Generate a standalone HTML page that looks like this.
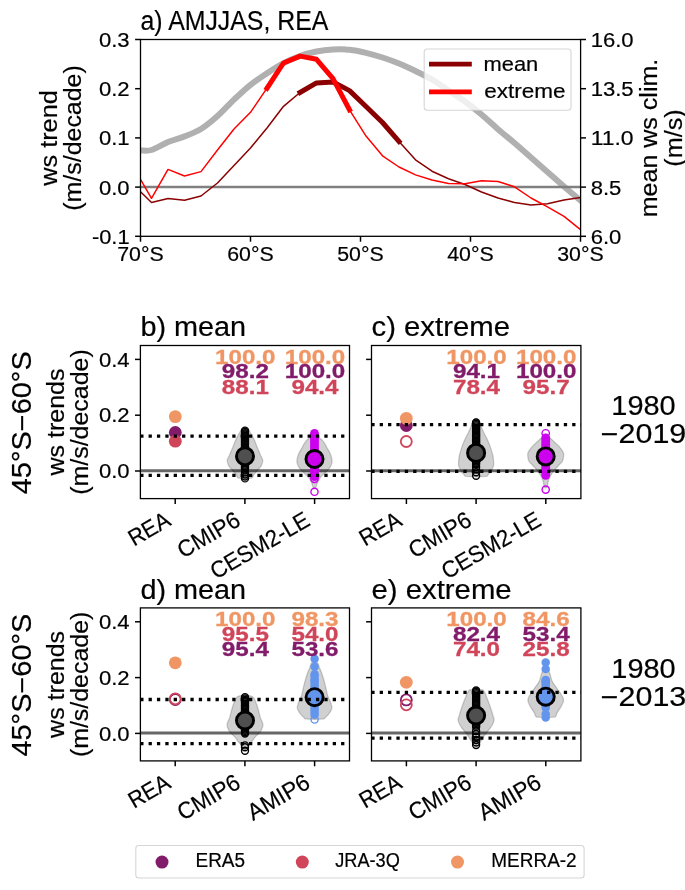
<!DOCTYPE html><html><head><meta charset="utf-8"><title>Figure</title><style>html,body{margin:0;padding:0;background:#fff;}svg{display:block;}text{font-family:"Liberation Sans",sans-serif;}</style></head><body>
<svg width="685" height="890" viewBox="0 0 685 890">
<rect width="685" height="890" fill="#fff"/>
<g opacity="0.999">
<defs><clipPath id="ca"><rect x="140.50" y="39.50" width="440.10" height="196.80"/></clipPath></defs>
<g clip-path="url(#ca)">
<path d="M135.00,150.60 C135.92,150.57 137.75,150.50 140.50,150.40 C143.25,150.30 146.92,151.40 151.50,150.00 C156.08,148.60 162.50,144.27 168.00,142.00 C173.50,139.73 179.00,138.57 184.50,136.40 C190.00,134.23 195.50,132.40 201.00,129.00 C206.50,125.60 212.00,120.90 217.50,116.00 C223.00,111.10 228.50,104.80 234.00,99.60 C239.50,94.40 245.00,89.18 250.50,84.80 C256.00,80.42 261.50,76.90 267.00,73.30 C272.50,69.70 278.00,66.08 283.50,63.20 C289.00,60.32 294.50,57.95 300.00,56.00 C305.50,54.05 311.00,52.58 316.50,51.50 C322.00,50.42 327.50,49.78 333.00,49.50 C338.50,49.22 344.00,49.25 349.50,49.80 C355.00,50.35 360.50,51.52 366.00,52.80 C371.50,54.08 377.00,55.72 382.50,57.50 C388.00,59.28 393.50,61.25 399.00,63.50 C404.50,65.75 410.00,68.33 415.50,71.00 C421.00,73.67 426.50,76.25 432.00,79.50 C437.50,82.75 443.00,86.83 448.50,90.50 C454.00,94.17 459.50,97.50 465.00,101.50 C470.50,105.50 476.00,109.88 481.50,114.50 C487.00,119.12 492.50,124.45 498.00,129.20 C503.50,133.95 509.00,138.28 514.50,143.00 C520.00,147.72 525.50,152.67 531.00,157.50 C536.50,162.33 542.00,167.17 547.50,172.00 C553.00,176.83 558.50,181.75 564.00,186.50 C569.50,191.25 576.83,197.42 580.50,200.50 C584.17,203.58 585.08,204.25 586.00,205.00" fill="none" stroke="#b0b0b0" stroke-width="6.0" stroke-linejoin="round"/>
<line x1="140.50" y1="187.10" x2="580.60" y2="187.10" stroke="#808080" stroke-width="2.5"/>
<polyline points="135.00,186.50 140.50,191.80 151.50,202.50 168.00,198.60 184.50,200.30 201.00,196.00 217.50,183.00 234.00,165.50 250.50,148.00 267.00,128.00 283.50,106.30 300.00,92.50 316.50,82.90 333.00,82.00 349.50,90.60 366.00,106.50 382.50,122.50 399.00,141.50 415.50,159.80 432.00,171.20 448.50,178.80 465.00,184.50 481.50,192.00 498.00,198.00 514.50,202.50 531.00,205.10 547.50,203.80 564.00,200.00 580.50,197.50 586.00,196.50" fill="none" stroke="#8b0000" stroke-width="1.5" stroke-linejoin="round"/>
<polyline points="135.00,168.00 140.50,179.30 151.50,198.30 168.00,169.40 184.50,176.00 201.00,171.60 217.50,150.00 234.00,129.00 250.50,112.30 267.00,88.20 283.50,63.00 300.00,56.10 316.50,59.30 333.00,78.70 349.50,109.80 366.00,136.10 382.50,155.80 399.00,167.00 415.50,174.90 432.00,180.00 448.50,183.40 465.00,183.80 481.50,180.80 498.00,181.50 514.50,186.80 531.00,198.00 547.50,206.80 564.00,216.40 580.50,229.60 586.00,234.00" fill="none" stroke="#ff0000" stroke-width="1.5" stroke-linejoin="round"/>
<polyline points="300.00,92.50 316.50,82.90 333.00,82.00 349.50,90.60 366.00,106.50 382.50,122.50 399.00,141.50" fill="none" stroke="#8b0000" stroke-width="5.0" stroke-linejoin="round" stroke-linecap="square"/>
<polyline points="267.00,88.20 283.50,63.00 300.00,56.10 316.50,59.30 333.00,78.70 349.50,109.80" fill="none" stroke="#ff0000" stroke-width="5.0" stroke-linejoin="round" stroke-linecap="square"/>
</g>
<rect x="424.2" y="49.0" width="146.8" height="61.2" rx="3" ry="3" fill="#fff" fill-opacity="0.8" stroke="#cccccc" stroke-opacity="0.8" stroke-width="1.1"/>
<line x1="429.00" y1="64.10" x2="471.80" y2="64.10" stroke="#8b0000" stroke-width="4.8"/>
<line x1="429.00" y1="91.90" x2="471.80" y2="91.90" stroke="#ff0000" stroke-width="4.8"/>
<text x="483.55" y="71.30" font-size="20.45" textLength="54.73" lengthAdjust="spacingAndGlyphs" stroke="#000" stroke-width="0.2">mean</text>
<text x="484.23" y="98.00" font-size="20.45" textLength="81.35" lengthAdjust="spacingAndGlyphs" stroke="#000" stroke-width="0.2">extreme</text>
<rect x="140.50" y="39.50" width="440.10" height="196.80" fill="none" stroke="#000" stroke-width="1.3"/>
<line x1="135.10" y1="39.50" x2="140.50" y2="39.50" stroke="#000" stroke-width="1.5"/>
<text x="129.60" y="46.90" font-size="20.45" textLength="30.69" lengthAdjust="spacingAndGlyphs" text-anchor="end" stroke="#000" stroke-width="0.2">0.3</text>
<line x1="135.10" y1="88.70" x2="140.50" y2="88.70" stroke="#000" stroke-width="1.5"/>
<text x="129.60" y="96.10" font-size="20.45" textLength="30.69" lengthAdjust="spacingAndGlyphs" text-anchor="end" stroke="#000" stroke-width="0.2">0.2</text>
<line x1="135.10" y1="137.90" x2="140.50" y2="137.90" stroke="#000" stroke-width="1.5"/>
<text x="129.60" y="145.30" font-size="20.45" textLength="30.69" lengthAdjust="spacingAndGlyphs" text-anchor="end" stroke="#000" stroke-width="0.2">0.1</text>
<line x1="135.10" y1="187.10" x2="140.50" y2="187.10" stroke="#000" stroke-width="1.5"/>
<text x="129.60" y="194.50" font-size="20.45" textLength="30.69" lengthAdjust="spacingAndGlyphs" text-anchor="end" stroke="#000" stroke-width="0.2">0.0</text>
<line x1="135.10" y1="236.30" x2="140.50" y2="236.30" stroke="#000" stroke-width="1.5"/>
<text x="129.60" y="243.70" font-size="20.45" textLength="37.66" lengthAdjust="spacingAndGlyphs" text-anchor="end" stroke="#000" stroke-width="0.2">-0.1</text>
<line x1="580.60" y1="39.50" x2="586.00" y2="39.50" stroke="#000" stroke-width="1.5"/>
<text x="590.68" y="46.90" font-size="20.45" textLength="42.97" lengthAdjust="spacingAndGlyphs" stroke="#000" stroke-width="0.2">16.0</text>
<line x1="580.60" y1="88.70" x2="586.00" y2="88.70" stroke="#000" stroke-width="1.5"/>
<text x="590.68" y="96.10" font-size="20.45" textLength="42.97" lengthAdjust="spacingAndGlyphs" stroke="#000" stroke-width="0.2">13.5</text>
<line x1="580.60" y1="137.90" x2="586.00" y2="137.90" stroke="#000" stroke-width="1.5"/>
<text x="590.68" y="145.30" font-size="20.45" textLength="42.97" lengthAdjust="spacingAndGlyphs" stroke="#000" stroke-width="0.2">11.0</text>
<line x1="580.60" y1="187.10" x2="586.00" y2="187.10" stroke="#000" stroke-width="1.5"/>
<text x="590.68" y="194.50" font-size="20.45" textLength="30.69" lengthAdjust="spacingAndGlyphs" stroke="#000" stroke-width="0.2">8.5</text>
<line x1="580.60" y1="236.30" x2="586.00" y2="236.30" stroke="#000" stroke-width="1.5"/>
<text x="590.68" y="243.70" font-size="20.45" textLength="30.69" lengthAdjust="spacingAndGlyphs" stroke="#000" stroke-width="0.2">6.0</text>
<line x1="140.50" y1="236.30" x2="140.50" y2="241.70" stroke="#000" stroke-width="1.5"/>
<text x="140.50" y="261.30" font-size="20.45" textLength="46.46" lengthAdjust="spacingAndGlyphs" text-anchor="middle" stroke="#000" stroke-width="0.2">70°S</text>
<line x1="250.50" y1="236.30" x2="250.50" y2="241.70" stroke="#000" stroke-width="1.5"/>
<text x="250.50" y="261.30" font-size="20.45" textLength="46.46" lengthAdjust="spacingAndGlyphs" text-anchor="middle" stroke="#000" stroke-width="0.2">60°S</text>
<line x1="360.50" y1="236.30" x2="360.50" y2="241.70" stroke="#000" stroke-width="1.5"/>
<text x="360.50" y="261.30" font-size="20.45" textLength="46.46" lengthAdjust="spacingAndGlyphs" text-anchor="middle" stroke="#000" stroke-width="0.2">50°S</text>
<line x1="470.50" y1="236.30" x2="470.50" y2="241.70" stroke="#000" stroke-width="1.5"/>
<text x="470.50" y="261.30" font-size="20.45" textLength="46.46" lengthAdjust="spacingAndGlyphs" text-anchor="middle" stroke="#000" stroke-width="0.2">40°S</text>
<line x1="580.50" y1="236.30" x2="580.50" y2="241.70" stroke="#000" stroke-width="1.5"/>
<text x="580.50" y="261.30" font-size="20.45" textLength="46.46" lengthAdjust="spacingAndGlyphs" text-anchor="middle" stroke="#000" stroke-width="0.2">30°S</text>
<text x="140.50" y="30.10" font-size="26.81" textLength="187.80" lengthAdjust="spacingAndGlyphs" stroke="#000" stroke-width="0.2">a) AMJJAS, REA</text>
<text transform="translate(56.70,138.00) rotate(-90)" font-size="23.31" textLength="95.56" lengthAdjust="spacingAndGlyphs" text-anchor="middle" stroke="#000" stroke-width="0.2">ws trend</text>
<text transform="translate(81.40,138.00) rotate(-90)" font-size="23.31" textLength="145.46" lengthAdjust="spacingAndGlyphs" text-anchor="middle" stroke="#000" stroke-width="0.2">(m/s/decade)</text>
<text transform="translate(656.80,138.00) rotate(-90)" font-size="23.31" textLength="158.58" lengthAdjust="spacingAndGlyphs" text-anchor="middle" stroke="#000" stroke-width="0.2">mean ws clim.</text>
<text transform="translate(682.00,138.00) rotate(-90)" font-size="23.31" textLength="57.47" lengthAdjust="spacingAndGlyphs" text-anchor="middle" stroke="#000" stroke-width="0.2">(m/s)</text>
<line x1="140.40" y1="470.70" x2="349.50" y2="470.70" stroke="#666666" stroke-width="3.0"/>
<path d="M245.00,427.30 L246.32,427.80 L247.30,428.30 L247.85,428.79 L248.33,429.29 L248.73,429.79 L249.08,430.29 L249.39,430.79 L249.66,431.28 L249.93,431.78 L250.19,432.28 L250.47,432.78 L250.77,433.28 L251.06,433.77 L251.36,434.27 L251.64,434.77 L251.92,435.27 L252.19,435.77 L252.46,436.27 L252.73,436.76 L252.98,437.26 L253.24,437.76 L253.48,438.26 L253.72,438.76 L253.96,439.25 L254.19,439.75 L254.42,440.25 L254.64,440.75 L254.86,441.25 L255.06,441.74 L255.27,442.24 L255.46,442.74 L255.66,443.24 L255.85,443.74 L256.03,444.23 L256.22,444.73 L256.41,445.23 L256.60,445.73 L256.79,446.23 L256.99,446.72 L257.19,447.22 L257.39,447.72 L257.60,448.22 L257.81,448.72 L258.02,449.21 L258.23,449.71 L258.45,450.21 L258.66,450.71 L258.88,451.21 L259.09,451.70 L259.31,452.20 L259.52,452.70 L259.73,453.20 L259.94,453.70 L260.15,454.20 L260.36,454.69 L260.57,455.19 L260.80,455.69 L261.05,456.19 L261.31,456.69 L261.57,457.18 L261.82,457.68 L262.05,458.18 L262.26,458.68 L262.44,459.18 L262.58,459.67 L262.67,460.17 L262.70,460.67 L262.68,461.17 L262.62,461.67 L262.53,462.16 L262.41,462.66 L262.26,463.16 L262.09,463.66 L261.90,464.16 L261.69,464.65 L261.48,465.15 L261.27,465.65 L261.03,466.15 L260.72,466.65 L260.35,467.14 L259.93,467.64 L259.49,468.14 L259.02,468.64 L258.55,469.14 L258.09,469.63 L257.66,470.13 L257.24,470.63 L256.81,471.13 L256.38,471.63 L255.94,472.13 L255.51,472.62 L255.08,473.12 L254.67,473.62 L254.27,474.12 L253.89,474.62 L253.59,475.11 L253.40,475.61 L253.23,476.11 L253.04,476.61 L252.76,477.11 L252.32,477.60 L251.66,478.10 L245.00,478.60 L245.00,478.60 L238.34,478.10 L237.68,477.60 L237.24,477.11 L236.96,476.61 L236.77,476.11 L236.60,475.61 L236.41,475.11 L236.11,474.62 L235.73,474.12 L235.33,473.62 L234.92,473.12 L234.49,472.62 L234.06,472.13 L233.62,471.63 L233.19,471.13 L232.76,470.63 L232.34,470.13 L231.91,469.63 L231.45,469.14 L230.98,468.64 L230.51,468.14 L230.07,467.64 L229.65,467.14 L229.28,466.65 L228.97,466.15 L228.73,465.65 L228.52,465.15 L228.31,464.65 L228.10,464.16 L227.91,463.66 L227.74,463.16 L227.59,462.66 L227.47,462.16 L227.38,461.67 L227.32,461.17 L227.30,460.67 L227.33,460.17 L227.42,459.67 L227.56,459.18 L227.74,458.68 L227.95,458.18 L228.18,457.68 L228.43,457.18 L228.69,456.69 L228.95,456.19 L229.20,455.69 L229.43,455.19 L229.64,454.69 L229.85,454.20 L230.06,453.70 L230.27,453.20 L230.48,452.70 L230.69,452.20 L230.91,451.70 L231.12,451.21 L231.34,450.71 L231.55,450.21 L231.77,449.71 L231.98,449.21 L232.19,448.72 L232.40,448.22 L232.61,447.72 L232.81,447.22 L233.01,446.72 L233.21,446.23 L233.40,445.73 L233.59,445.23 L233.78,444.73 L233.97,444.23 L234.15,443.74 L234.34,443.24 L234.54,442.74 L234.73,442.24 L234.94,441.74 L235.14,441.25 L235.36,440.75 L235.58,440.25 L235.81,439.75 L236.04,439.25 L236.28,438.76 L236.52,438.26 L236.76,437.76 L237.02,437.26 L237.27,436.76 L237.54,436.27 L237.81,435.77 L238.08,435.27 L238.36,434.77 L238.64,434.27 L238.94,433.77 L239.23,433.28 L239.53,432.78 L239.81,432.28 L240.07,431.78 L240.34,431.28 L240.61,430.79 L240.92,430.29 L241.27,429.79 L241.67,429.29 L242.15,428.79 L242.70,428.30 L243.68,427.80 L245.00,427.30 Z" fill="#000" fill-opacity="0.19" stroke="#000" stroke-opacity="0.19" stroke-width="1.3"/>
<path d="M314.50,433.00 L315.97,433.50 L316.99,433.99 L317.43,434.49 L317.74,434.98 L317.96,435.48 L318.14,435.97 L318.33,436.47 L318.56,436.96 L318.89,437.46 L319.42,437.96 L320.21,438.45 L320.94,438.95 L321.47,439.44 L321.96,439.94 L322.41,440.43 L322.84,440.93 L323.24,441.42 L323.62,441.92 L323.97,442.42 L324.31,442.91 L324.64,443.41 L324.95,443.90 L325.24,444.40 L325.51,444.89 L325.77,445.39 L326.02,445.88 L326.26,446.38 L326.51,446.88 L326.76,447.37 L327.03,447.87 L327.31,448.36 L327.60,448.86 L327.90,449.35 L328.21,449.85 L328.51,450.34 L328.81,450.84 L329.10,451.33 L329.37,451.83 L329.62,452.33 L329.85,452.82 L330.07,453.32 L330.29,453.81 L330.50,454.31 L330.70,454.80 L330.89,455.30 L331.06,455.79 L331.22,456.29 L331.35,456.79 L331.46,457.28 L331.58,457.78 L331.69,458.27 L331.79,458.77 L331.88,459.26 L331.97,459.76 L332.03,460.25 L332.08,460.75 L332.10,461.25 L332.09,461.74 L332.04,462.24 L331.95,462.73 L331.83,463.23 L331.68,463.72 L331.51,464.22 L331.32,464.71 L331.12,465.21 L330.92,465.71 L330.71,466.20 L330.46,466.70 L330.15,467.19 L329.80,467.69 L329.41,468.18 L328.99,468.68 L328.55,469.17 L328.09,469.67 L327.61,470.17 L327.14,470.66 L326.66,471.16 L326.20,471.65 L325.75,472.15 L325.30,472.64 L324.82,473.14 L324.32,473.63 L323.81,474.13 L323.28,474.62 L322.76,475.12 L322.24,475.62 L321.74,476.11 L321.26,476.61 L320.80,477.10 L320.37,477.60 L319.98,478.09 L319.64,478.59 L319.33,479.08 L319.04,479.58 L318.76,480.08 L318.50,480.57 L318.25,481.07 L318.02,481.56 L317.79,482.06 L317.58,482.55 L317.36,483.05 L317.16,483.54 L317.00,484.04 L316.85,484.54 L316.71,485.03 L316.56,485.53 L316.39,486.02 L316.19,486.52 L315.95,487.01 L315.59,487.51 L315.08,488.00 L314.50,488.50 L314.50,488.50 L313.92,488.00 L313.41,487.51 L313.05,487.01 L312.81,486.52 L312.61,486.02 L312.44,485.53 L312.29,485.03 L312.15,484.54 L312.00,484.04 L311.84,483.54 L311.64,483.05 L311.42,482.55 L311.21,482.06 L310.98,481.56 L310.75,481.07 L310.50,480.57 L310.24,480.08 L309.96,479.58 L309.67,479.08 L309.36,478.59 L309.02,478.09 L308.63,477.60 L308.20,477.10 L307.74,476.61 L307.26,476.11 L306.76,475.62 L306.24,475.12 L305.72,474.62 L305.19,474.13 L304.68,473.63 L304.18,473.14 L303.70,472.64 L303.25,472.15 L302.80,471.65 L302.34,471.16 L301.86,470.66 L301.39,470.17 L300.91,469.67 L300.45,469.17 L300.01,468.68 L299.59,468.18 L299.20,467.69 L298.85,467.19 L298.54,466.70 L298.29,466.20 L298.08,465.71 L297.88,465.21 L297.68,464.71 L297.49,464.22 L297.32,463.72 L297.17,463.23 L297.05,462.73 L296.96,462.24 L296.91,461.74 L296.90,461.25 L296.92,460.75 L296.97,460.25 L297.03,459.76 L297.12,459.26 L297.21,458.77 L297.31,458.27 L297.42,457.78 L297.54,457.28 L297.65,456.79 L297.78,456.29 L297.94,455.79 L298.11,455.30 L298.30,454.80 L298.50,454.31 L298.71,453.81 L298.93,453.32 L299.15,452.82 L299.38,452.33 L299.63,451.83 L299.90,451.33 L300.19,450.84 L300.49,450.34 L300.79,449.85 L301.10,449.35 L301.40,448.86 L301.69,448.36 L301.97,447.87 L302.24,447.37 L302.49,446.88 L302.74,446.38 L302.98,445.88 L303.23,445.39 L303.49,444.89 L303.76,444.40 L304.05,443.90 L304.36,443.41 L304.69,442.91 L305.03,442.42 L305.38,441.92 L305.76,441.42 L306.16,440.93 L306.59,440.43 L307.04,439.94 L307.53,439.44 L308.06,438.95 L308.79,438.45 L309.58,437.96 L310.11,437.46 L310.44,436.96 L310.67,436.47 L310.86,435.97 L311.04,435.48 L311.26,434.98 L311.57,434.49 L312.01,433.99 L313.03,433.50 L314.50,433.00 Z" fill="#000" fill-opacity="0.19" stroke="#000" stroke-opacity="0.19" stroke-width="1.3"/>
<circle cx="245.00" cy="430.60" r="3.50" fill="none" stroke="#000" stroke-width="1.4"/>
<circle cx="245.00" cy="431.90" r="3.50" fill="none" stroke="#000" stroke-width="1.4"/>
<circle cx="245.00" cy="433.20" r="3.50" fill="none" stroke="#000" stroke-width="1.4"/>
<circle cx="245.00" cy="434.50" r="3.50" fill="none" stroke="#000" stroke-width="1.4"/>
<circle cx="245.00" cy="435.80" r="3.50" fill="none" stroke="#000" stroke-width="1.4"/>
<circle cx="245.00" cy="437.10" r="3.50" fill="none" stroke="#000" stroke-width="1.4"/>
<circle cx="245.00" cy="438.40" r="3.50" fill="none" stroke="#000" stroke-width="1.4"/>
<circle cx="245.00" cy="439.70" r="3.50" fill="none" stroke="#000" stroke-width="1.4"/>
<circle cx="245.00" cy="441.00" r="3.50" fill="none" stroke="#000" stroke-width="1.4"/>
<circle cx="245.00" cy="442.30" r="3.50" fill="none" stroke="#000" stroke-width="1.4"/>
<circle cx="245.00" cy="443.60" r="3.50" fill="none" stroke="#000" stroke-width="1.4"/>
<circle cx="245.00" cy="444.90" r="3.50" fill="none" stroke="#000" stroke-width="1.4"/>
<circle cx="245.00" cy="446.20" r="3.50" fill="none" stroke="#000" stroke-width="1.4"/>
<circle cx="245.00" cy="447.50" r="3.50" fill="none" stroke="#000" stroke-width="1.4"/>
<circle cx="245.00" cy="448.80" r="3.50" fill="none" stroke="#000" stroke-width="1.4"/>
<circle cx="245.00" cy="450.10" r="3.50" fill="none" stroke="#000" stroke-width="1.4"/>
<circle cx="245.00" cy="451.40" r="3.50" fill="none" stroke="#000" stroke-width="1.4"/>
<circle cx="245.00" cy="452.70" r="3.50" fill="none" stroke="#000" stroke-width="1.4"/>
<circle cx="245.00" cy="454.00" r="3.50" fill="none" stroke="#000" stroke-width="1.4"/>
<circle cx="245.00" cy="455.30" r="3.50" fill="none" stroke="#000" stroke-width="1.4"/>
<circle cx="245.00" cy="456.60" r="3.50" fill="none" stroke="#000" stroke-width="1.4"/>
<circle cx="245.00" cy="457.90" r="3.50" fill="none" stroke="#000" stroke-width="1.4"/>
<circle cx="245.00" cy="459.20" r="3.50" fill="none" stroke="#000" stroke-width="1.4"/>
<circle cx="245.00" cy="460.50" r="3.50" fill="none" stroke="#000" stroke-width="1.4"/>
<circle cx="245.00" cy="461.80" r="3.50" fill="none" stroke="#000" stroke-width="1.4"/>
<circle cx="245.00" cy="463.10" r="3.50" fill="none" stroke="#000" stroke-width="1.4"/>
<circle cx="245.00" cy="464.40" r="3.50" fill="none" stroke="#000" stroke-width="1.4"/>
<circle cx="245.00" cy="465.70" r="3.50" fill="none" stroke="#000" stroke-width="1.4"/>
<circle cx="245.00" cy="467.00" r="3.50" fill="none" stroke="#000" stroke-width="1.4"/>
<circle cx="245.00" cy="468.30" r="3.50" fill="none" stroke="#000" stroke-width="1.4"/>
<circle cx="245.00" cy="469.60" r="3.50" fill="none" stroke="#000" stroke-width="1.4"/>
<circle cx="245.00" cy="472.50" r="3.50" fill="none" stroke="#000" stroke-width="1.4"/>
<circle cx="245.00" cy="474.50" r="3.50" fill="none" stroke="#000" stroke-width="1.4"/>
<circle cx="245.00" cy="476.50" r="3.50" fill="none" stroke="#000" stroke-width="1.4"/>
<circle cx="245.00" cy="478.40" r="3.50" fill="none" stroke="#000" stroke-width="1.4"/>
<circle cx="245.00" cy="456.30" r="8.55" fill="#4f4f4f" stroke="#000" stroke-width="2.9"/>
<line x1="314.50" y1="433.30" x2="314.50" y2="476.60" stroke="#cc00ee" stroke-width="8.8" stroke-linecap="round"/>
<circle cx="314.50" cy="478.80" r="3.70" fill="none" stroke="#cc00ee" stroke-width="1.4"/>
<circle cx="314.50" cy="491.80" r="3.60" fill="none" stroke="#cc00ee" stroke-width="1.4"/>
<circle cx="314.50" cy="459.00" r="8.55" fill="#cc00ee" stroke="#000" stroke-width="2.9"/>
<circle cx="175.30" cy="432.50" r="6.40" fill="#821c6a" stroke="none" stroke-width="0"/>
<circle cx="175.30" cy="441.20" r="6.40" fill="#d0455a" stroke="none" stroke-width="0"/>
<circle cx="175.30" cy="416.60" r="6.40" fill="#f09664" stroke="none" stroke-width="0"/>
<line x1="140.20" y1="436.20" x2="349.50" y2="436.20" stroke="#000" stroke-width="3.3" stroke-dasharray="3.3 5.07"/>
<line x1="140.20" y1="475.30" x2="349.50" y2="475.30" stroke="#000" stroke-width="3.3" stroke-dasharray="3.3 5.07"/>
<text x="245.30" y="363.60" font-size="20.24" textLength="60.41" lengthAdjust="spacingAndGlyphs" text-anchor="middle" font-weight="bold" fill="#f09664" stroke="#f09664" stroke-width="0.3">100.0</text>
<text x="245.30" y="378.40" font-size="20.24" textLength="47.13" lengthAdjust="spacingAndGlyphs" text-anchor="middle" font-weight="bold" fill="#821c6a" stroke="#821c6a" stroke-width="0.3">98.2</text>
<text x="245.30" y="394.00" font-size="20.24" textLength="47.13" lengthAdjust="spacingAndGlyphs" text-anchor="middle" font-weight="bold" fill="#d0455a" stroke="#d0455a" stroke-width="0.3">88.1</text>
<text x="315.00" y="363.60" font-size="20.24" textLength="60.41" lengthAdjust="spacingAndGlyphs" text-anchor="middle" font-weight="bold" fill="#f09664" stroke="#f09664" stroke-width="0.3">100.0</text>
<text x="315.00" y="378.40" font-size="20.24" textLength="60.41" lengthAdjust="spacingAndGlyphs" text-anchor="middle" font-weight="bold" fill="#821c6a" stroke="#821c6a" stroke-width="0.3">100.0</text>
<text x="315.00" y="394.00" font-size="20.24" textLength="47.13" lengthAdjust="spacingAndGlyphs" text-anchor="middle" font-weight="bold" fill="#d0455a" stroke="#d0455a" stroke-width="0.3">94.4</text>
<rect x="140.40" y="345.50" width="209.10" height="153.10" fill="none" stroke="#000" stroke-width="1.3"/>
<line x1="135.00" y1="471.00" x2="140.40" y2="471.00" stroke="#000" stroke-width="1.5"/>
<text x="129.60" y="478.20" font-size="20.45" textLength="30.69" lengthAdjust="spacingAndGlyphs" text-anchor="end" stroke="#000" stroke-width="0.2">0.0</text>
<line x1="135.00" y1="415.20" x2="140.40" y2="415.20" stroke="#000" stroke-width="1.5"/>
<text x="129.60" y="422.40" font-size="20.45" textLength="30.69" lengthAdjust="spacingAndGlyphs" text-anchor="end" stroke="#000" stroke-width="0.2">0.2</text>
<line x1="135.00" y1="359.40" x2="140.40" y2="359.40" stroke="#000" stroke-width="1.5"/>
<text x="129.60" y="366.60" font-size="20.45" textLength="30.69" lengthAdjust="spacingAndGlyphs" text-anchor="end" stroke="#000" stroke-width="0.2">0.4</text>
<line x1="175.20" y1="498.60" x2="175.20" y2="504.00" stroke="#000" stroke-width="1.5"/>
<text transform="translate(172.20,524.60) rotate(-30)" font-size="23.31" textLength="44.24" lengthAdjust="spacingAndGlyphs" text-anchor="end" stroke="#000" stroke-width="0.2">REA</text>
<line x1="244.90" y1="498.60" x2="244.90" y2="504.00" stroke="#000" stroke-width="1.5"/>
<text transform="translate(241.90,524.60) rotate(-30)" font-size="23.31" textLength="68.09" lengthAdjust="spacingAndGlyphs" text-anchor="end" stroke="#000" stroke-width="0.2">CMIP6</text>
<line x1="314.60" y1="498.60" x2="314.60" y2="504.00" stroke="#000" stroke-width="1.5"/>
<text transform="translate(311.60,524.60) rotate(-30)" font-size="23.31" textLength="110.30" lengthAdjust="spacingAndGlyphs" text-anchor="end" stroke="#000" stroke-width="0.2">CESM2-LE</text>
<text x="140.40" y="336.10" font-size="26.81" textLength="105.72" lengthAdjust="spacingAndGlyphs" stroke="#000" stroke-width="0.2">b) mean</text>
<line x1="371.50" y1="470.70" x2="580.90" y2="470.70" stroke="#666666" stroke-width="3.0"/>
<path d="M476.10,418.50 L477.56,419.00 L478.26,419.50 L478.59,419.99 L478.84,420.49 L479.04,420.99 L479.19,421.49 L479.33,421.99 L479.48,422.49 L479.65,422.98 L479.86,423.48 L480.07,423.98 L480.28,424.48 L480.49,424.98 L480.70,425.48 L480.91,425.97 L481.12,426.47 L481.33,426.97 L481.55,427.47 L481.76,427.97 L481.97,428.47 L482.19,428.96 L482.40,429.46 L482.62,429.96 L482.84,430.46 L483.07,430.96 L483.30,431.46 L483.53,431.95 L483.76,432.45 L484.00,432.95 L484.25,433.45 L484.51,433.95 L484.77,434.45 L485.03,434.94 L485.29,435.44 L485.55,435.94 L485.82,436.44 L486.08,436.94 L486.34,437.44 L486.59,437.93 L486.85,438.43 L487.09,438.93 L487.33,439.43 L487.56,439.93 L487.78,440.42 L487.99,440.92 L488.20,441.42 L488.41,441.92 L488.61,442.42 L488.81,442.92 L489.01,443.41 L489.21,443.91 L489.40,444.41 L489.58,444.91 L489.77,445.41 L489.95,445.91 L490.13,446.40 L490.30,446.90 L490.47,447.40 L490.63,447.90 L490.79,448.40 L490.95,448.90 L491.10,449.39 L491.25,449.89 L491.40,450.39 L491.55,450.89 L491.71,451.39 L491.86,451.89 L492.01,452.38 L492.16,452.88 L492.30,453.38 L492.44,453.88 L492.57,454.38 L492.70,454.88 L492.82,455.37 L492.93,455.87 L493.03,456.37 L493.12,456.87 L493.20,457.37 L493.26,457.86 L493.32,458.36 L493.37,458.86 L493.41,459.36 L493.46,459.86 L493.51,460.36 L493.55,460.85 L493.58,461.35 L493.62,461.85 L493.65,462.35 L493.67,462.85 L493.69,463.35 L493.70,463.84 L493.70,464.34 L493.67,464.84 L493.61,465.34 L493.50,465.84 L493.36,466.34 L493.19,466.83 L492.99,467.33 L492.77,467.83 L492.53,468.33 L492.27,468.83 L492.01,469.33 L491.73,469.82 L491.45,470.32 L491.17,470.82 L490.89,471.32 L490.58,471.82 L490.23,472.32 L489.84,472.81 L489.42,473.31 L488.98,473.81 L488.53,474.31 L488.09,474.81 L487.78,475.31 L487.47,475.80 L486.80,476.30 L476.10,476.80 L476.10,476.80 L465.40,476.30 L464.73,475.80 L464.42,475.31 L464.11,474.81 L463.67,474.31 L463.22,473.81 L462.78,473.31 L462.36,472.81 L461.97,472.32 L461.62,471.82 L461.31,471.32 L461.03,470.82 L460.75,470.32 L460.47,469.82 L460.19,469.33 L459.93,468.83 L459.67,468.33 L459.43,467.83 L459.21,467.33 L459.01,466.83 L458.84,466.34 L458.70,465.84 L458.59,465.34 L458.53,464.84 L458.50,464.34 L458.50,463.84 L458.51,463.35 L458.53,462.85 L458.55,462.35 L458.58,461.85 L458.62,461.35 L458.65,460.85 L458.69,460.36 L458.74,459.86 L458.79,459.36 L458.83,458.86 L458.88,458.36 L458.94,457.86 L459.00,457.37 L459.08,456.87 L459.17,456.37 L459.27,455.87 L459.38,455.37 L459.50,454.88 L459.63,454.38 L459.76,453.88 L459.90,453.38 L460.04,452.88 L460.19,452.38 L460.34,451.89 L460.49,451.39 L460.65,450.89 L460.80,450.39 L460.95,449.89 L461.10,449.39 L461.25,448.90 L461.41,448.40 L461.57,447.90 L461.73,447.40 L461.90,446.90 L462.07,446.40 L462.25,445.91 L462.43,445.41 L462.62,444.91 L462.80,444.41 L462.99,443.91 L463.19,443.41 L463.39,442.92 L463.59,442.42 L463.79,441.92 L464.00,441.42 L464.21,440.92 L464.42,440.42 L464.64,439.93 L464.87,439.43 L465.11,438.93 L465.35,438.43 L465.61,437.93 L465.86,437.44 L466.12,436.94 L466.38,436.44 L466.65,435.94 L466.91,435.44 L467.17,434.94 L467.43,434.45 L467.69,433.95 L467.95,433.45 L468.20,432.95 L468.44,432.45 L468.67,431.95 L468.90,431.46 L469.13,430.96 L469.36,430.46 L469.58,429.96 L469.80,429.46 L470.01,428.96 L470.23,428.47 L470.44,427.97 L470.65,427.47 L470.87,426.97 L471.08,426.47 L471.29,425.97 L471.50,425.48 L471.71,424.98 L471.92,424.48 L472.13,423.98 L472.34,423.48 L472.55,422.98 L472.72,422.49 L472.87,421.99 L473.01,421.49 L473.16,420.99 L473.36,420.49 L473.61,419.99 L473.94,419.50 L474.64,419.00 L476.10,418.50 Z" fill="#000" fill-opacity="0.19" stroke="#000" stroke-opacity="0.19" stroke-width="1.3"/>
<path d="M545.70,434.50 L546.80,435.00 L547.69,435.49 L548.31,435.99 L548.82,436.48 L549.27,436.98 L549.70,437.47 L550.17,437.97 L550.68,438.46 L551.20,438.96 L551.73,439.45 L552.27,439.95 L552.80,440.44 L553.34,440.94 L553.87,441.44 L554.40,441.93 L554.92,442.43 L555.45,442.92 L555.99,443.42 L556.55,443.91 L557.10,444.41 L557.65,444.90 L558.17,445.40 L558.66,445.89 L559.11,446.39 L559.51,446.88 L559.88,447.38 L560.25,447.88 L560.62,448.37 L560.99,448.87 L561.36,449.36 L561.71,449.86 L562.05,450.35 L562.37,450.85 L562.66,451.34 L562.93,451.84 L563.17,452.33 L563.37,452.83 L563.52,453.32 L563.63,453.82 L563.69,454.31 L563.70,454.81 L563.68,455.31 L563.65,455.80 L563.61,456.30 L563.55,456.79 L563.48,457.29 L563.40,457.78 L563.30,458.28 L563.20,458.77 L563.09,459.27 L562.97,459.76 L562.84,460.26 L562.67,460.75 L562.41,461.25 L562.05,461.75 L561.62,462.24 L561.15,462.74 L560.65,463.23 L560.13,463.73 L559.63,464.22 L559.16,464.72 L558.73,465.21 L558.28,465.71 L557.83,466.20 L557.38,466.70 L556.92,467.19 L556.47,467.69 L556.03,468.19 L555.60,468.68 L555.18,469.18 L554.78,469.67 L554.39,470.17 L554.00,470.66 L553.62,471.16 L553.24,471.65 L552.88,472.15 L552.53,472.64 L552.19,473.14 L551.87,473.63 L551.56,474.13 L551.26,474.62 L550.96,475.12 L550.67,475.62 L550.40,476.11 L550.13,476.61 L549.88,477.10 L549.64,477.60 L549.42,478.09 L549.23,478.59 L549.04,479.08 L548.87,479.58 L548.70,480.07 L548.54,480.57 L548.39,481.06 L548.25,481.56 L548.11,482.06 L547.99,482.55 L547.87,483.05 L547.77,483.54 L547.70,484.04 L547.64,484.53 L547.59,485.03 L547.52,485.52 L547.44,486.02 L547.32,486.51 L547.16,487.01 L546.90,487.50 L545.70,488.00 L545.70,488.00 L544.50,487.50 L544.24,487.01 L544.08,486.51 L543.96,486.02 L543.88,485.52 L543.81,485.03 L543.76,484.53 L543.70,484.04 L543.63,483.54 L543.53,483.05 L543.41,482.55 L543.29,482.06 L543.15,481.56 L543.01,481.06 L542.86,480.57 L542.70,480.07 L542.53,479.58 L542.36,479.08 L542.17,478.59 L541.98,478.09 L541.76,477.60 L541.52,477.10 L541.27,476.61 L541.00,476.11 L540.73,475.62 L540.44,475.12 L540.14,474.62 L539.84,474.13 L539.53,473.63 L539.21,473.14 L538.87,472.64 L538.52,472.15 L538.16,471.65 L537.78,471.16 L537.40,470.66 L537.01,470.17 L536.62,469.67 L536.22,469.18 L535.80,468.68 L535.37,468.19 L534.93,467.69 L534.48,467.19 L534.02,466.70 L533.57,466.20 L533.12,465.71 L532.67,465.21 L532.24,464.72 L531.77,464.22 L531.27,463.73 L530.75,463.23 L530.25,462.74 L529.78,462.24 L529.35,461.75 L528.99,461.25 L528.73,460.75 L528.56,460.26 L528.43,459.76 L528.31,459.27 L528.20,458.77 L528.10,458.28 L528.00,457.78 L527.92,457.29 L527.85,456.79 L527.79,456.30 L527.75,455.80 L527.72,455.31 L527.70,454.81 L527.71,454.31 L527.77,453.82 L527.88,453.32 L528.03,452.83 L528.23,452.33 L528.47,451.84 L528.74,451.34 L529.03,450.85 L529.35,450.35 L529.69,449.86 L530.04,449.36 L530.41,448.87 L530.78,448.37 L531.15,447.88 L531.52,447.38 L531.89,446.88 L532.29,446.39 L532.74,445.89 L533.23,445.40 L533.75,444.90 L534.30,444.41 L534.85,443.91 L535.41,443.42 L535.95,442.92 L536.48,442.43 L537.00,441.93 L537.53,441.44 L538.06,440.94 L538.60,440.44 L539.13,439.95 L539.67,439.45 L540.20,438.96 L540.72,438.46 L541.23,437.97 L541.70,437.47 L542.13,436.98 L542.58,436.48 L543.09,435.99 L543.71,435.49 L544.60,435.00 L545.70,434.50 Z" fill="#000" fill-opacity="0.19" stroke="#000" stroke-opacity="0.19" stroke-width="1.3"/>
<circle cx="476.10" cy="422.50" r="3.50" fill="none" stroke="#000" stroke-width="1.4"/>
<circle cx="476.10" cy="423.80" r="3.50" fill="none" stroke="#000" stroke-width="1.4"/>
<circle cx="476.10" cy="425.10" r="3.50" fill="none" stroke="#000" stroke-width="1.4"/>
<circle cx="476.10" cy="426.40" r="3.50" fill="none" stroke="#000" stroke-width="1.4"/>
<circle cx="476.10" cy="427.70" r="3.50" fill="none" stroke="#000" stroke-width="1.4"/>
<circle cx="476.10" cy="429.00" r="3.50" fill="none" stroke="#000" stroke-width="1.4"/>
<circle cx="476.10" cy="430.30" r="3.50" fill="none" stroke="#000" stroke-width="1.4"/>
<circle cx="476.10" cy="431.60" r="3.50" fill="none" stroke="#000" stroke-width="1.4"/>
<circle cx="476.10" cy="432.90" r="3.50" fill="none" stroke="#000" stroke-width="1.4"/>
<circle cx="476.10" cy="434.20" r="3.50" fill="none" stroke="#000" stroke-width="1.4"/>
<circle cx="476.10" cy="435.50" r="3.50" fill="none" stroke="#000" stroke-width="1.4"/>
<circle cx="476.10" cy="436.80" r="3.50" fill="none" stroke="#000" stroke-width="1.4"/>
<circle cx="476.10" cy="438.10" r="3.50" fill="none" stroke="#000" stroke-width="1.4"/>
<circle cx="476.10" cy="439.40" r="3.50" fill="none" stroke="#000" stroke-width="1.4"/>
<circle cx="476.10" cy="440.70" r="3.50" fill="none" stroke="#000" stroke-width="1.4"/>
<circle cx="476.10" cy="442.00" r="3.50" fill="none" stroke="#000" stroke-width="1.4"/>
<circle cx="476.10" cy="443.30" r="3.50" fill="none" stroke="#000" stroke-width="1.4"/>
<circle cx="476.10" cy="444.60" r="3.50" fill="none" stroke="#000" stroke-width="1.4"/>
<circle cx="476.10" cy="445.90" r="3.50" fill="none" stroke="#000" stroke-width="1.4"/>
<circle cx="476.10" cy="447.20" r="3.50" fill="none" stroke="#000" stroke-width="1.4"/>
<circle cx="476.10" cy="448.50" r="3.50" fill="none" stroke="#000" stroke-width="1.4"/>
<circle cx="476.10" cy="449.80" r="3.50" fill="none" stroke="#000" stroke-width="1.4"/>
<circle cx="476.10" cy="451.10" r="3.50" fill="none" stroke="#000" stroke-width="1.4"/>
<circle cx="476.10" cy="452.40" r="3.50" fill="none" stroke="#000" stroke-width="1.4"/>
<circle cx="476.10" cy="453.70" r="3.50" fill="none" stroke="#000" stroke-width="1.4"/>
<circle cx="476.10" cy="455.00" r="3.50" fill="none" stroke="#000" stroke-width="1.4"/>
<circle cx="476.10" cy="456.30" r="3.50" fill="none" stroke="#000" stroke-width="1.4"/>
<circle cx="476.10" cy="457.60" r="3.50" fill="none" stroke="#000" stroke-width="1.4"/>
<circle cx="476.10" cy="458.90" r="3.50" fill="none" stroke="#000" stroke-width="1.4"/>
<circle cx="476.10" cy="460.20" r="3.50" fill="none" stroke="#000" stroke-width="1.4"/>
<circle cx="476.10" cy="461.50" r="3.50" fill="none" stroke="#000" stroke-width="1.4"/>
<circle cx="476.10" cy="462.80" r="3.50" fill="none" stroke="#000" stroke-width="1.4"/>
<circle cx="476.10" cy="464.30" r="3.50" fill="none" stroke="#000" stroke-width="1.4"/>
<circle cx="476.10" cy="467.00" r="3.50" fill="none" stroke="#000" stroke-width="1.4"/>
<circle cx="476.10" cy="469.60" r="3.50" fill="none" stroke="#000" stroke-width="1.4"/>
<circle cx="476.10" cy="472.20" r="3.50" fill="none" stroke="#000" stroke-width="1.4"/>
<circle cx="476.10" cy="475.80" r="3.50" fill="none" stroke="#000" stroke-width="1.4"/>
<circle cx="476.10" cy="452.90" r="8.55" fill="#4f4f4f" stroke="#000" stroke-width="2.9"/>
<circle cx="545.70" cy="433.30" r="3.70" fill="none" stroke="#cc00ee" stroke-width="1.4"/>
<line x1="545.70" y1="437.90" x2="545.70" y2="475.30" stroke="#cc00ee" stroke-width="8.8" stroke-linecap="round"/>
<circle cx="545.70" cy="489.60" r="3.60" fill="none" stroke="#cc00ee" stroke-width="1.4"/>
<circle cx="545.70" cy="456.40" r="8.55" fill="#cc00ee" stroke="#000" stroke-width="2.9"/>
<circle cx="406.30" cy="425.50" r="6.40" fill="#821c6a" stroke="none" stroke-width="0"/>
<circle cx="406.30" cy="441.50" r="5.50" fill="none" stroke="#d0455a" stroke-width="1.8"/>
<circle cx="406.30" cy="418.40" r="6.40" fill="#f09664" stroke="none" stroke-width="0"/>
<line x1="371.30" y1="424.70" x2="580.90" y2="424.70" stroke="#000" stroke-width="3.3" stroke-dasharray="3.3 5.07"/>
<line x1="371.30" y1="471.30" x2="580.90" y2="471.30" stroke="#000" stroke-width="3.3" stroke-dasharray="3.3 5.07"/>
<text x="476.50" y="363.60" font-size="20.24" textLength="60.41" lengthAdjust="spacingAndGlyphs" text-anchor="middle" font-weight="bold" fill="#f09664" stroke="#f09664" stroke-width="0.3">100.0</text>
<text x="476.50" y="378.40" font-size="20.24" textLength="47.13" lengthAdjust="spacingAndGlyphs" text-anchor="middle" font-weight="bold" fill="#821c6a" stroke="#821c6a" stroke-width="0.3">94.1</text>
<text x="476.50" y="394.00" font-size="20.24" textLength="47.13" lengthAdjust="spacingAndGlyphs" text-anchor="middle" font-weight="bold" fill="#d0455a" stroke="#d0455a" stroke-width="0.3">78.4</text>
<text x="546.20" y="363.60" font-size="20.24" textLength="60.41" lengthAdjust="spacingAndGlyphs" text-anchor="middle" font-weight="bold" fill="#f09664" stroke="#f09664" stroke-width="0.3">100.0</text>
<text x="546.20" y="378.40" font-size="20.24" textLength="60.41" lengthAdjust="spacingAndGlyphs" text-anchor="middle" font-weight="bold" fill="#821c6a" stroke="#821c6a" stroke-width="0.3">100.0</text>
<text x="546.20" y="394.00" font-size="20.24" textLength="47.13" lengthAdjust="spacingAndGlyphs" text-anchor="middle" font-weight="bold" fill="#d0455a" stroke="#d0455a" stroke-width="0.3">95.7</text>
<rect x="371.50" y="345.50" width="209.40" height="153.10" fill="none" stroke="#000" stroke-width="1.3"/>
<line x1="366.10" y1="471.00" x2="371.50" y2="471.00" stroke="#000" stroke-width="1.5"/>
<line x1="366.10" y1="415.20" x2="371.50" y2="415.20" stroke="#000" stroke-width="1.5"/>
<line x1="366.10" y1="359.40" x2="371.50" y2="359.40" stroke="#000" stroke-width="1.5"/>
<line x1="406.40" y1="498.60" x2="406.40" y2="504.00" stroke="#000" stroke-width="1.5"/>
<text transform="translate(403.40,524.60) rotate(-30)" font-size="23.31" textLength="44.24" lengthAdjust="spacingAndGlyphs" text-anchor="end" stroke="#000" stroke-width="0.2">REA</text>
<line x1="476.10" y1="498.60" x2="476.10" y2="504.00" stroke="#000" stroke-width="1.5"/>
<text transform="translate(473.10,524.60) rotate(-30)" font-size="23.31" textLength="68.09" lengthAdjust="spacingAndGlyphs" text-anchor="end" stroke="#000" stroke-width="0.2">CMIP6</text>
<line x1="545.80" y1="498.60" x2="545.80" y2="504.00" stroke="#000" stroke-width="1.5"/>
<text transform="translate(542.80,524.60) rotate(-30)" font-size="23.31" textLength="110.30" lengthAdjust="spacingAndGlyphs" text-anchor="end" stroke="#000" stroke-width="0.2">CESM2-LE</text>
<text x="371.50" y="336.10" font-size="26.81" textLength="138.46" lengthAdjust="spacingAndGlyphs" stroke="#000" stroke-width="0.2">c) extreme</text>
<line x1="140.40" y1="733.10" x2="349.50" y2="733.10" stroke="#666666" stroke-width="3.0"/>
<path d="M245.00,695.30 L250.32,695.80 L251.76,696.29 L252.57,696.79 L253.08,697.29 L253.52,697.79 L253.91,698.28 L254.26,698.78 L254.56,699.28 L254.82,699.77 L255.06,700.27 L255.28,700.77 L255.48,701.27 L255.66,701.76 L255.84,702.26 L256.02,702.76 L256.20,703.25 L256.40,703.75 L256.58,704.25 L256.76,704.74 L256.93,705.24 L257.09,705.74 L257.25,706.24 L257.40,706.73 L257.55,707.23 L257.70,707.73 L257.84,708.22 L257.98,708.72 L258.12,709.22 L258.26,709.72 L258.40,710.21 L258.54,710.71 L258.68,711.21 L258.81,711.70 L258.94,712.20 L259.07,712.70 L259.19,713.20 L259.32,713.69 L259.44,714.19 L259.57,714.69 L259.70,715.18 L259.83,715.68 L259.96,716.18 L260.11,716.67 L260.25,717.17 L260.42,717.67 L260.61,718.17 L260.81,718.66 L261.02,719.16 L261.25,719.66 L261.47,720.15 L261.69,720.65 L261.91,721.15 L262.12,721.65 L262.31,722.14 L262.48,722.64 L262.63,723.14 L262.75,723.63 L262.84,724.13 L262.89,724.63 L262.90,725.13 L262.87,725.62 L262.79,726.12 L262.68,726.62 L262.54,727.11 L262.38,727.61 L262.19,728.11 L261.98,728.60 L261.76,729.10 L261.53,729.60 L261.29,730.10 L261.05,730.59 L260.77,731.09 L260.43,731.59 L260.05,732.08 L259.61,732.58 L259.15,733.08 L258.65,733.58 L258.14,734.07 L257.62,734.57 L257.09,735.07 L256.57,735.56 L256.06,736.06 L255.58,736.56 L255.13,737.06 L254.71,737.55 L254.32,738.05 L253.95,738.55 L253.60,739.04 L253.26,739.54 L252.92,740.04 L252.58,740.53 L252.22,741.03 L251.85,741.53 L251.45,742.03 L251.02,742.52 L250.56,743.02 L250.05,743.52 L249.48,744.01 L248.80,744.51 L247.97,745.01 L247.03,745.51 L246.03,746.00 L245.00,746.50 L245.00,746.50 L243.97,746.00 L242.97,745.51 L242.03,745.01 L241.20,744.51 L240.52,744.01 L239.95,743.52 L239.44,743.02 L238.98,742.52 L238.55,742.03 L238.15,741.53 L237.78,741.03 L237.42,740.53 L237.08,740.04 L236.74,739.54 L236.40,739.04 L236.05,738.55 L235.68,738.05 L235.29,737.55 L234.87,737.06 L234.42,736.56 L233.94,736.06 L233.43,735.56 L232.91,735.07 L232.38,734.57 L231.86,734.07 L231.35,733.58 L230.85,733.08 L230.39,732.58 L229.95,732.08 L229.57,731.59 L229.23,731.09 L228.95,730.59 L228.71,730.10 L228.47,729.60 L228.24,729.10 L228.02,728.60 L227.81,728.11 L227.62,727.61 L227.46,727.11 L227.32,726.62 L227.21,726.12 L227.13,725.62 L227.10,725.13 L227.11,724.63 L227.16,724.13 L227.25,723.63 L227.37,723.14 L227.52,722.64 L227.69,722.14 L227.88,721.65 L228.09,721.15 L228.31,720.65 L228.53,720.15 L228.75,719.66 L228.98,719.16 L229.19,718.66 L229.39,718.17 L229.58,717.67 L229.75,717.17 L229.89,716.67 L230.04,716.18 L230.17,715.68 L230.30,715.18 L230.43,714.69 L230.56,714.19 L230.68,713.69 L230.81,713.20 L230.93,712.70 L231.06,712.20 L231.19,711.70 L231.32,711.21 L231.46,710.71 L231.60,710.21 L231.74,709.72 L231.88,709.22 L232.02,708.72 L232.16,708.22 L232.30,707.73 L232.45,707.23 L232.60,706.73 L232.75,706.24 L232.91,705.74 L233.07,705.24 L233.24,704.74 L233.42,704.25 L233.60,703.75 L233.80,703.25 L233.98,702.76 L234.16,702.26 L234.34,701.76 L234.52,701.27 L234.72,700.77 L234.94,700.27 L235.18,699.77 L235.44,699.28 L235.74,698.78 L236.09,698.28 L236.48,697.79 L236.92,697.29 L237.43,696.79 L238.24,696.29 L239.68,695.80 L245.00,695.30 Z" fill="#000" fill-opacity="0.19" stroke="#000" stroke-opacity="0.19" stroke-width="1.3"/>
<path d="M314.60,660.50 L316.10,661.00 L316.60,661.50 L317.03,662.00 L317.40,662.50 L317.72,663.00 L317.99,663.49 L318.21,663.99 L318.41,664.49 L318.59,664.99 L318.75,665.49 L318.90,665.99 L319.06,666.49 L319.22,666.99 L319.39,667.49 L319.59,667.99 L319.81,668.49 L320.02,668.99 L320.23,669.48 L320.44,669.98 L320.64,670.48 L320.84,670.98 L321.04,671.48 L321.23,671.98 L321.43,672.48 L321.61,672.98 L321.80,673.48 L321.98,673.98 L322.16,674.48 L322.33,674.98 L322.50,675.47 L322.67,675.97 L322.83,676.47 L322.99,676.97 L323.15,677.47 L323.30,677.97 L323.45,678.47 L323.59,678.97 L323.73,679.47 L323.87,679.97 L324.01,680.47 L324.14,680.97 L324.28,681.46 L324.41,681.96 L324.53,682.46 L324.66,682.96 L324.79,683.46 L324.91,683.96 L325.04,684.46 L325.16,684.96 L325.29,685.46 L325.41,685.96 L325.54,686.46 L325.65,686.96 L325.77,687.45 L325.88,687.95 L325.99,688.45 L326.09,688.95 L326.20,689.45 L326.30,689.95 L326.41,690.45 L326.52,690.95 L326.63,691.45 L326.74,691.95 L326.86,692.45 L326.98,692.94 L327.10,693.44 L327.23,693.94 L327.37,694.44 L327.51,694.94 L327.67,695.44 L327.84,695.94 L328.03,696.44 L328.23,696.94 L328.44,697.44 L328.66,697.94 L328.88,698.44 L329.11,698.93 L329.34,699.43 L329.57,699.93 L329.79,700.43 L330.01,700.93 L330.22,701.43 L330.43,701.93 L330.62,702.43 L330.80,702.93 L330.96,703.43 L331.11,703.93 L331.25,704.43 L331.40,704.92 L331.55,705.42 L331.68,705.92 L331.79,706.42 L331.87,706.92 L331.90,707.42 L331.88,707.92 L331.79,708.42 L331.65,708.92 L331.47,709.42 L331.24,709.92 L330.99,710.42 L330.71,710.91 L330.41,711.41 L330.10,711.91 L329.80,712.41 L329.49,712.91 L329.17,713.41 L328.81,713.91 L328.41,714.41 L327.98,714.91 L327.52,715.41 L327.04,715.91 L326.55,716.41 L326.04,716.90 L325.52,717.40 L325.01,717.90 L324.51,718.40 L324.15,718.90 L314.60,719.40 L314.60,719.40 L305.05,718.90 L304.69,718.40 L304.19,717.90 L303.68,717.40 L303.16,716.90 L302.65,716.41 L302.16,715.91 L301.68,715.41 L301.22,714.91 L300.79,714.41 L300.39,713.91 L300.03,713.41 L299.71,712.91 L299.40,712.41 L299.10,711.91 L298.79,711.41 L298.49,710.91 L298.21,710.42 L297.96,709.92 L297.73,709.42 L297.55,708.92 L297.41,708.42 L297.32,707.92 L297.30,707.42 L297.33,706.92 L297.41,706.42 L297.52,705.92 L297.65,705.42 L297.80,704.92 L297.95,704.43 L298.09,703.93 L298.24,703.43 L298.40,702.93 L298.58,702.43 L298.77,701.93 L298.98,701.43 L299.19,700.93 L299.41,700.43 L299.63,699.93 L299.86,699.43 L300.09,698.93 L300.32,698.44 L300.54,697.94 L300.76,697.44 L300.97,696.94 L301.17,696.44 L301.36,695.94 L301.53,695.44 L301.69,694.94 L301.83,694.44 L301.97,693.94 L302.10,693.44 L302.22,692.94 L302.34,692.45 L302.46,691.95 L302.57,691.45 L302.68,690.95 L302.79,690.45 L302.90,689.95 L303.00,689.45 L303.11,688.95 L303.21,688.45 L303.32,687.95 L303.43,687.45 L303.55,686.96 L303.66,686.46 L303.79,685.96 L303.91,685.46 L304.04,684.96 L304.16,684.46 L304.29,683.96 L304.41,683.46 L304.54,682.96 L304.67,682.46 L304.79,681.96 L304.92,681.46 L305.06,680.97 L305.19,680.47 L305.33,679.97 L305.47,679.47 L305.61,678.97 L305.75,678.47 L305.90,677.97 L306.05,677.47 L306.21,676.97 L306.37,676.47 L306.53,675.97 L306.70,675.47 L306.87,674.98 L307.04,674.48 L307.22,673.98 L307.40,673.48 L307.59,672.98 L307.77,672.48 L307.97,671.98 L308.16,671.48 L308.36,670.98 L308.56,670.48 L308.76,669.98 L308.97,669.48 L309.18,668.99 L309.39,668.49 L309.61,667.99 L309.81,667.49 L309.98,666.99 L310.14,666.49 L310.30,665.99 L310.45,665.49 L310.61,664.99 L310.79,664.49 L310.99,663.99 L311.21,663.49 L311.48,663.00 L311.80,662.50 L312.17,662.00 L312.60,661.50 L313.10,661.00 L314.60,660.50 Z" fill="#000" fill-opacity="0.19" stroke="#000" stroke-opacity="0.19" stroke-width="1.3"/>
<circle cx="245.00" cy="697.10" r="3.50" fill="none" stroke="#000" stroke-width="1.4"/>
<circle cx="245.00" cy="698.40" r="3.50" fill="none" stroke="#000" stroke-width="1.4"/>
<circle cx="245.00" cy="699.70" r="3.50" fill="none" stroke="#000" stroke-width="1.4"/>
<circle cx="245.00" cy="701.00" r="3.50" fill="none" stroke="#000" stroke-width="1.4"/>
<circle cx="245.00" cy="702.30" r="3.50" fill="none" stroke="#000" stroke-width="1.4"/>
<circle cx="245.00" cy="703.60" r="3.50" fill="none" stroke="#000" stroke-width="1.4"/>
<circle cx="245.00" cy="704.90" r="3.50" fill="none" stroke="#000" stroke-width="1.4"/>
<circle cx="245.00" cy="706.20" r="3.50" fill="none" stroke="#000" stroke-width="1.4"/>
<circle cx="245.00" cy="707.50" r="3.50" fill="none" stroke="#000" stroke-width="1.4"/>
<circle cx="245.00" cy="708.80" r="3.50" fill="none" stroke="#000" stroke-width="1.4"/>
<circle cx="245.00" cy="710.10" r="3.50" fill="none" stroke="#000" stroke-width="1.4"/>
<circle cx="245.00" cy="711.40" r="3.50" fill="none" stroke="#000" stroke-width="1.4"/>
<circle cx="245.00" cy="712.70" r="3.50" fill="none" stroke="#000" stroke-width="1.4"/>
<circle cx="245.00" cy="714.00" r="3.50" fill="none" stroke="#000" stroke-width="1.4"/>
<circle cx="245.00" cy="715.30" r="3.50" fill="none" stroke="#000" stroke-width="1.4"/>
<circle cx="245.00" cy="716.60" r="3.50" fill="none" stroke="#000" stroke-width="1.4"/>
<circle cx="245.00" cy="717.90" r="3.50" fill="none" stroke="#000" stroke-width="1.4"/>
<circle cx="245.00" cy="719.20" r="3.50" fill="none" stroke="#000" stroke-width="1.4"/>
<circle cx="245.00" cy="720.50" r="3.50" fill="none" stroke="#000" stroke-width="1.4"/>
<circle cx="245.00" cy="721.80" r="3.50" fill="none" stroke="#000" stroke-width="1.4"/>
<circle cx="245.00" cy="723.10" r="3.50" fill="none" stroke="#000" stroke-width="1.4"/>
<circle cx="245.00" cy="724.40" r="3.50" fill="none" stroke="#000" stroke-width="1.4"/>
<circle cx="245.00" cy="725.70" r="3.50" fill="none" stroke="#000" stroke-width="1.4"/>
<circle cx="245.00" cy="727.00" r="3.50" fill="none" stroke="#000" stroke-width="1.4"/>
<circle cx="245.00" cy="728.30" r="3.50" fill="none" stroke="#000" stroke-width="1.4"/>
<circle cx="245.00" cy="729.60" r="3.50" fill="none" stroke="#000" stroke-width="1.4"/>
<circle cx="245.00" cy="730.90" r="3.50" fill="none" stroke="#000" stroke-width="1.4"/>
<circle cx="245.00" cy="732.20" r="3.50" fill="none" stroke="#000" stroke-width="1.4"/>
<circle cx="245.00" cy="733.50" r="3.50" fill="none" stroke="#000" stroke-width="1.4"/>
<circle cx="245.00" cy="745.40" r="3.50" fill="none" stroke="#000" stroke-width="1.4"/>
<circle cx="245.00" cy="747.20" r="3.50" fill="none" stroke="#000" stroke-width="1.4"/>
<circle cx="245.00" cy="750.80" r="3.50" fill="none" stroke="#000" stroke-width="1.4"/>
<circle cx="245.00" cy="720.50" r="8.55" fill="#4f4f4f" stroke="#000" stroke-width="2.9"/>
<circle cx="314.60" cy="658.80" r="4.25" fill="#6495ed" stroke="none" stroke-width="0"/>
<circle cx="314.60" cy="666.70" r="4.25" fill="#6495ed" stroke="none" stroke-width="0"/>
<circle cx="314.60" cy="674.20" r="4.25" fill="#6495ed" stroke="none" stroke-width="0"/>
<circle cx="314.60" cy="676.80" r="4.25" fill="#6495ed" stroke="none" stroke-width="0"/>
<circle cx="314.60" cy="680.00" r="4.25" fill="#6495ed" stroke="none" stroke-width="0"/>
<line x1="314.60" y1="680.25" x2="314.60" y2="714.75" stroke="#6495ed" stroke-width="8.5" stroke-linecap="round"/>
<circle cx="314.60" cy="719.60" r="3.55" fill="none" stroke="#6495ed" stroke-width="1.4"/>
<circle cx="314.60" cy="697.20" r="8.55" fill="#6495ed" stroke="#000" stroke-width="2.9"/>
<circle cx="175.30" cy="699.50" r="5.50" fill="none" stroke="#821c6a" stroke-width="1.8"/>
<circle cx="175.30" cy="698.80" r="5.50" fill="none" stroke="#d0455a" stroke-width="1.8"/>
<circle cx="175.30" cy="662.80" r="6.40" fill="#f09664" stroke="none" stroke-width="0"/>
<line x1="140.20" y1="699.50" x2="349.50" y2="699.50" stroke="#000" stroke-width="3.3" stroke-dasharray="3.3 5.07"/>
<line x1="140.20" y1="743.70" x2="349.50" y2="743.70" stroke="#000" stroke-width="3.3" stroke-dasharray="3.3 5.07"/>
<text x="245.30" y="626.00" font-size="20.24" textLength="60.41" lengthAdjust="spacingAndGlyphs" text-anchor="middle" font-weight="bold" fill="#f09664" stroke="#f09664" stroke-width="0.3">100.0</text>
<text x="245.30" y="640.80" font-size="20.24" textLength="47.13" lengthAdjust="spacingAndGlyphs" text-anchor="middle" font-weight="bold" fill="#d0455a" stroke="#d0455a" stroke-width="0.3">95.5</text>
<text x="245.30" y="656.40" font-size="20.24" textLength="47.13" lengthAdjust="spacingAndGlyphs" text-anchor="middle" font-weight="bold" fill="#821c6a" stroke="#821c6a" stroke-width="0.3">95.4</text>
<text x="315.00" y="626.00" font-size="20.24" textLength="47.13" lengthAdjust="spacingAndGlyphs" text-anchor="middle" font-weight="bold" fill="#f09664" stroke="#f09664" stroke-width="0.3">98.3</text>
<text x="315.00" y="640.80" font-size="20.24" textLength="47.13" lengthAdjust="spacingAndGlyphs" text-anchor="middle" font-weight="bold" fill="#d0455a" stroke="#d0455a" stroke-width="0.3">54.0</text>
<text x="315.00" y="656.40" font-size="20.24" textLength="47.13" lengthAdjust="spacingAndGlyphs" text-anchor="middle" font-weight="bold" fill="#821c6a" stroke="#821c6a" stroke-width="0.3">53.6</text>
<rect x="140.40" y="607.90" width="209.10" height="153.00" fill="none" stroke="#000" stroke-width="1.3"/>
<line x1="135.00" y1="733.40" x2="140.40" y2="733.40" stroke="#000" stroke-width="1.5"/>
<text x="129.60" y="740.60" font-size="20.45" textLength="30.69" lengthAdjust="spacingAndGlyphs" text-anchor="end" stroke="#000" stroke-width="0.2">0.0</text>
<line x1="135.00" y1="677.60" x2="140.40" y2="677.60" stroke="#000" stroke-width="1.5"/>
<text x="129.60" y="684.80" font-size="20.45" textLength="30.69" lengthAdjust="spacingAndGlyphs" text-anchor="end" stroke="#000" stroke-width="0.2">0.2</text>
<line x1="135.00" y1="621.80" x2="140.40" y2="621.80" stroke="#000" stroke-width="1.5"/>
<text x="129.60" y="629.00" font-size="20.45" textLength="30.69" lengthAdjust="spacingAndGlyphs" text-anchor="end" stroke="#000" stroke-width="0.2">0.4</text>
<line x1="175.20" y1="760.90" x2="175.20" y2="766.30" stroke="#000" stroke-width="1.5"/>
<text transform="translate(172.20,787.00) rotate(-30)" font-size="23.31" textLength="44.24" lengthAdjust="spacingAndGlyphs" text-anchor="end" stroke="#000" stroke-width="0.2">REA</text>
<line x1="244.90" y1="760.90" x2="244.90" y2="766.30" stroke="#000" stroke-width="1.5"/>
<text transform="translate(241.90,787.00) rotate(-30)" font-size="23.31" textLength="68.09" lengthAdjust="spacingAndGlyphs" text-anchor="end" stroke="#000" stroke-width="0.2">CMIP6</text>
<line x1="314.60" y1="760.90" x2="314.60" y2="766.30" stroke="#000" stroke-width="1.5"/>
<text transform="translate(311.60,787.00) rotate(-30)" font-size="23.31" textLength="67.78" lengthAdjust="spacingAndGlyphs" text-anchor="end" stroke="#000" stroke-width="0.2">AMIP6</text>
<text x="140.40" y="598.50" font-size="26.81" textLength="105.72" lengthAdjust="spacingAndGlyphs" stroke="#000" stroke-width="0.2">d) mean</text>
<line x1="371.50" y1="733.10" x2="580.90" y2="733.10" stroke="#666666" stroke-width="3.0"/>
<path d="M476.10,689.30 L482.50,689.80 L483.14,690.30 L483.55,690.80 L483.94,691.30 L484.28,691.80 L484.59,692.29 L484.86,692.79 L485.11,693.29 L485.33,693.79 L485.54,694.29 L485.73,694.79 L485.91,695.29 L486.08,695.79 L486.25,696.29 L486.43,696.79 L486.61,697.29 L486.81,697.78 L487.02,698.28 L487.23,698.78 L487.43,699.28 L487.64,699.78 L487.84,700.28 L488.03,700.78 L488.23,701.28 L488.42,701.78 L488.61,702.28 L488.79,702.78 L488.98,703.27 L489.16,703.77 L489.34,704.27 L489.52,704.77 L489.70,705.27 L489.87,705.77 L490.05,706.27 L490.22,706.77 L490.39,707.27 L490.56,707.77 L490.73,708.27 L490.89,708.76 L491.06,709.26 L491.22,709.76 L491.38,710.26 L491.54,710.76 L491.70,711.26 L491.85,711.76 L492.01,712.26 L492.16,712.76 L492.31,713.26 L492.46,713.76 L492.61,714.25 L492.76,714.75 L492.91,715.25 L493.06,715.75 L493.21,716.25 L493.39,716.75 L493.57,717.25 L493.75,717.75 L493.90,718.25 L494.02,718.75 L494.09,719.25 L494.09,719.75 L494.05,720.24 L493.96,720.74 L493.83,721.24 L493.68,721.74 L493.49,722.24 L493.29,722.74 L493.07,723.24 L492.84,723.74 L492.61,724.24 L492.38,724.74 L492.14,725.24 L491.86,725.73 L491.54,726.23 L491.20,726.73 L490.83,727.23 L490.44,727.73 L490.04,728.23 L489.64,728.73 L489.23,729.23 L488.84,729.73 L488.45,730.23 L488.08,730.73 L487.70,731.22 L487.32,731.72 L486.93,732.22 L486.54,732.72 L486.15,733.22 L485.76,733.72 L485.38,734.22 L485.01,734.72 L484.64,735.22 L484.29,735.72 L483.96,736.22 L483.65,736.71 L483.35,737.21 L483.07,737.71 L482.78,738.21 L482.50,738.71 L482.19,739.21 L481.87,739.71 L481.52,740.21 L481.13,740.71 L480.70,741.21 L480.21,741.71 L479.64,742.20 L479.02,742.70 L478.34,743.20 L477.62,743.70 L476.87,744.20 L476.10,744.70 L476.10,744.70 L475.33,744.20 L474.58,743.70 L473.86,743.20 L473.18,742.70 L472.56,742.20 L471.99,741.71 L471.50,741.21 L471.07,740.71 L470.68,740.21 L470.33,739.71 L470.01,739.21 L469.70,738.71 L469.42,738.21 L469.13,737.71 L468.85,737.21 L468.55,736.71 L468.24,736.22 L467.91,735.72 L467.56,735.22 L467.19,734.72 L466.82,734.22 L466.44,733.72 L466.05,733.22 L465.66,732.72 L465.27,732.22 L464.88,731.72 L464.50,731.22 L464.12,730.73 L463.75,730.23 L463.36,729.73 L462.97,729.23 L462.56,728.73 L462.16,728.23 L461.76,727.73 L461.37,727.23 L461.00,726.73 L460.66,726.23 L460.34,725.73 L460.06,725.24 L459.82,724.74 L459.59,724.24 L459.36,723.74 L459.13,723.24 L458.91,722.74 L458.71,722.24 L458.52,721.74 L458.37,721.24 L458.24,720.74 L458.15,720.24 L458.11,719.75 L458.11,719.25 L458.18,718.75 L458.30,718.25 L458.45,717.75 L458.63,717.25 L458.81,716.75 L458.99,716.25 L459.14,715.75 L459.29,715.25 L459.44,714.75 L459.59,714.25 L459.74,713.76 L459.89,713.26 L460.04,712.76 L460.19,712.26 L460.35,711.76 L460.50,711.26 L460.66,710.76 L460.82,710.26 L460.98,709.76 L461.14,709.26 L461.31,708.76 L461.47,708.27 L461.64,707.77 L461.81,707.27 L461.98,706.77 L462.15,706.27 L462.33,705.77 L462.50,705.27 L462.68,704.77 L462.86,704.27 L463.04,703.77 L463.22,703.27 L463.41,702.78 L463.59,702.28 L463.78,701.78 L463.97,701.28 L464.17,700.78 L464.36,700.28 L464.56,699.78 L464.77,699.28 L464.97,698.78 L465.18,698.28 L465.39,697.78 L465.59,697.29 L465.77,696.79 L465.95,696.29 L466.12,695.79 L466.29,695.29 L466.47,694.79 L466.66,694.29 L466.87,693.79 L467.09,693.29 L467.34,692.79 L467.61,692.29 L467.92,691.80 L468.26,691.30 L468.65,690.80 L469.06,690.30 L469.70,689.80 L476.10,689.30 Z" fill="#000" fill-opacity="0.19" stroke="#000" stroke-opacity="0.19" stroke-width="1.3"/>
<path d="M545.70,666.00 L546.56,666.50 L547.19,666.99 L547.54,667.49 L547.84,667.98 L548.10,668.48 L548.32,668.98 L548.52,669.47 L548.69,669.97 L548.85,670.47 L549.00,670.96 L549.16,671.46 L549.31,671.95 L549.48,672.45 L549.66,672.95 L549.82,673.44 L549.98,673.94 L550.13,674.43 L550.27,674.93 L550.41,675.43 L550.54,675.92 L550.67,676.42 L550.81,676.92 L550.95,677.41 L551.08,677.91 L551.23,678.40 L551.38,678.90 L551.54,679.40 L551.71,679.89 L551.89,680.39 L552.08,680.88 L552.29,681.38 L552.52,681.88 L552.79,682.37 L553.07,682.87 L553.38,683.37 L553.71,683.86 L554.06,684.36 L554.42,684.85 L554.78,685.35 L555.15,685.85 L555.52,686.34 L555.88,686.84 L556.24,687.33 L556.59,687.83 L556.95,688.33 L557.32,688.82 L557.71,689.32 L558.09,689.82 L558.48,690.31 L558.86,690.81 L559.23,691.30 L559.59,691.80 L559.92,692.30 L560.23,692.79 L560.50,693.29 L560.78,693.78 L561.07,694.28 L561.36,694.78 L561.66,695.27 L561.94,695.77 L562.21,696.27 L562.47,696.76 L562.71,697.26 L562.93,697.75 L563.12,698.25 L563.27,698.75 L563.39,699.24 L563.47,699.74 L563.50,700.23 L563.48,700.73 L563.40,701.23 L563.28,701.72 L563.12,702.22 L562.93,702.72 L562.72,703.21 L562.48,703.71 L562.23,704.20 L561.99,704.70 L561.74,705.20 L561.50,705.69 L561.26,706.19 L561.00,706.68 L560.72,707.18 L560.42,707.68 L560.11,708.17 L559.79,708.67 L559.45,709.17 L559.12,709.66 L558.78,710.16 L558.44,710.65 L558.11,711.15 L557.78,711.65 L557.46,712.14 L557.16,712.64 L556.87,713.13 L556.68,713.63 L556.54,714.13 L556.43,714.62 L556.31,715.12 L556.13,715.62 L555.87,716.11 L555.48,716.61 L554.92,717.10 L545.70,717.60 L545.70,717.60 L536.48,717.10 L535.92,716.61 L535.53,716.11 L535.27,715.62 L535.09,715.12 L534.97,714.62 L534.86,714.13 L534.72,713.63 L534.53,713.13 L534.24,712.64 L533.94,712.14 L533.62,711.65 L533.29,711.15 L532.96,710.65 L532.62,710.16 L532.28,709.66 L531.95,709.17 L531.61,708.67 L531.29,708.17 L530.98,707.68 L530.68,707.18 L530.40,706.68 L530.14,706.19 L529.90,705.69 L529.66,705.20 L529.41,704.70 L529.17,704.20 L528.92,703.71 L528.68,703.21 L528.47,702.72 L528.28,702.22 L528.12,701.72 L528.00,701.23 L527.92,700.73 L527.90,700.23 L527.93,699.74 L528.01,699.24 L528.13,698.75 L528.28,698.25 L528.47,697.75 L528.69,697.26 L528.93,696.76 L529.19,696.27 L529.46,695.77 L529.74,695.27 L530.04,694.78 L530.33,694.28 L530.62,693.78 L530.90,693.29 L531.17,692.79 L531.48,692.30 L531.81,691.80 L532.17,691.30 L532.54,690.81 L532.92,690.31 L533.31,689.82 L533.69,689.32 L534.08,688.82 L534.45,688.33 L534.81,687.83 L535.16,687.33 L535.52,686.84 L535.88,686.34 L536.25,685.85 L536.62,685.35 L536.98,684.85 L537.34,684.36 L537.69,683.86 L538.02,683.37 L538.33,682.87 L538.61,682.37 L538.88,681.88 L539.11,681.38 L539.32,680.88 L539.51,680.39 L539.69,679.89 L539.86,679.40 L540.02,678.90 L540.17,678.40 L540.32,677.91 L540.45,677.41 L540.59,676.92 L540.73,676.42 L540.86,675.92 L540.99,675.43 L541.13,674.93 L541.27,674.43 L541.42,673.94 L541.58,673.44 L541.74,672.95 L541.92,672.45 L542.09,671.95 L542.24,671.46 L542.40,670.96 L542.55,670.47 L542.71,669.97 L542.88,669.47 L543.08,668.98 L543.30,668.48 L543.56,667.98 L543.86,667.49 L544.21,666.99 L544.84,666.50 L545.70,666.00 Z" fill="#000" fill-opacity="0.19" stroke="#000" stroke-opacity="0.19" stroke-width="1.3"/>
<circle cx="476.10" cy="690.50" r="3.50" fill="none" stroke="#000" stroke-width="1.4"/>
<circle cx="476.10" cy="691.80" r="3.50" fill="none" stroke="#000" stroke-width="1.4"/>
<circle cx="476.10" cy="693.10" r="3.50" fill="none" stroke="#000" stroke-width="1.4"/>
<circle cx="476.10" cy="694.40" r="3.50" fill="none" stroke="#000" stroke-width="1.4"/>
<circle cx="476.10" cy="695.70" r="3.50" fill="none" stroke="#000" stroke-width="1.4"/>
<circle cx="476.10" cy="697.00" r="3.50" fill="none" stroke="#000" stroke-width="1.4"/>
<circle cx="476.10" cy="698.30" r="3.50" fill="none" stroke="#000" stroke-width="1.4"/>
<circle cx="476.10" cy="699.60" r="3.50" fill="none" stroke="#000" stroke-width="1.4"/>
<circle cx="476.10" cy="700.90" r="3.50" fill="none" stroke="#000" stroke-width="1.4"/>
<circle cx="476.10" cy="702.20" r="3.50" fill="none" stroke="#000" stroke-width="1.4"/>
<circle cx="476.10" cy="703.50" r="3.50" fill="none" stroke="#000" stroke-width="1.4"/>
<circle cx="476.10" cy="704.80" r="3.50" fill="none" stroke="#000" stroke-width="1.4"/>
<circle cx="476.10" cy="706.10" r="3.50" fill="none" stroke="#000" stroke-width="1.4"/>
<circle cx="476.10" cy="707.40" r="3.50" fill="none" stroke="#000" stroke-width="1.4"/>
<circle cx="476.10" cy="708.70" r="3.50" fill="none" stroke="#000" stroke-width="1.4"/>
<circle cx="476.10" cy="710.00" r="3.50" fill="none" stroke="#000" stroke-width="1.4"/>
<circle cx="476.10" cy="711.30" r="3.50" fill="none" stroke="#000" stroke-width="1.4"/>
<circle cx="476.10" cy="712.60" r="3.50" fill="none" stroke="#000" stroke-width="1.4"/>
<circle cx="476.10" cy="713.90" r="3.50" fill="none" stroke="#000" stroke-width="1.4"/>
<circle cx="476.10" cy="715.20" r="3.50" fill="none" stroke="#000" stroke-width="1.4"/>
<circle cx="476.10" cy="716.50" r="3.50" fill="none" stroke="#000" stroke-width="1.4"/>
<circle cx="476.10" cy="717.80" r="3.50" fill="none" stroke="#000" stroke-width="1.4"/>
<circle cx="476.10" cy="719.10" r="3.50" fill="none" stroke="#000" stroke-width="1.4"/>
<circle cx="476.10" cy="720.40" r="3.50" fill="none" stroke="#000" stroke-width="1.4"/>
<circle cx="476.10" cy="721.70" r="3.50" fill="none" stroke="#000" stroke-width="1.4"/>
<circle cx="476.10" cy="723.00" r="3.50" fill="none" stroke="#000" stroke-width="1.4"/>
<circle cx="476.10" cy="724.30" r="3.50" fill="none" stroke="#000" stroke-width="1.4"/>
<circle cx="476.10" cy="725.60" r="3.50" fill="none" stroke="#000" stroke-width="1.4"/>
<circle cx="476.10" cy="726.90" r="3.50" fill="none" stroke="#000" stroke-width="1.4"/>
<circle cx="476.10" cy="731.00" r="3.50" fill="none" stroke="#000" stroke-width="1.4"/>
<circle cx="476.10" cy="734.00" r="3.50" fill="none" stroke="#000" stroke-width="1.4"/>
<circle cx="476.10" cy="737.00" r="3.50" fill="none" stroke="#000" stroke-width="1.4"/>
<circle cx="476.10" cy="740.00" r="3.50" fill="none" stroke="#000" stroke-width="1.4"/>
<circle cx="476.10" cy="742.50" r="3.50" fill="none" stroke="#000" stroke-width="1.4"/>
<circle cx="476.10" cy="745.00" r="3.50" fill="none" stroke="#000" stroke-width="1.4"/>
<circle cx="476.10" cy="715.50" r="8.55" fill="#4f4f4f" stroke="#000" stroke-width="2.9"/>
<circle cx="545.70" cy="662.40" r="4.25" fill="#6495ed" stroke="none" stroke-width="0"/>
<circle cx="545.70" cy="669.00" r="4.25" fill="#6495ed" stroke="none" stroke-width="0"/>
<circle cx="545.70" cy="680.00" r="4.25" fill="#6495ed" stroke="none" stroke-width="0"/>
<circle cx="545.70" cy="682.50" r="4.25" fill="#6495ed" stroke="none" stroke-width="0"/>
<line x1="545.70" y1="680.25" x2="545.70" y2="707.75" stroke="#6495ed" stroke-width="8.5" stroke-linecap="round"/>
<circle cx="545.70" cy="714.00" r="4.25" fill="#6495ed" stroke="none" stroke-width="0"/>
<circle cx="545.70" cy="717.50" r="4.25" fill="#6495ed" stroke="none" stroke-width="0"/>
<circle cx="545.70" cy="696.70" r="8.55" fill="#6495ed" stroke="#000" stroke-width="2.9"/>
<circle cx="406.30" cy="699.90" r="5.50" fill="none" stroke="#821c6a" stroke-width="1.8"/>
<circle cx="406.30" cy="704.80" r="5.50" fill="none" stroke="#d0455a" stroke-width="1.8"/>
<circle cx="406.30" cy="682.30" r="6.40" fill="#f09664" stroke="none" stroke-width="0"/>
<line x1="371.30" y1="692.30" x2="580.90" y2="692.30" stroke="#000" stroke-width="3.3" stroke-dasharray="3.3 5.07"/>
<line x1="371.30" y1="738.10" x2="580.90" y2="738.10" stroke="#000" stroke-width="3.3" stroke-dasharray="3.3 5.07"/>
<text x="476.50" y="626.00" font-size="20.24" textLength="60.41" lengthAdjust="spacingAndGlyphs" text-anchor="middle" font-weight="bold" fill="#f09664" stroke="#f09664" stroke-width="0.3">100.0</text>
<text x="476.50" y="640.80" font-size="20.24" textLength="47.13" lengthAdjust="spacingAndGlyphs" text-anchor="middle" font-weight="bold" fill="#821c6a" stroke="#821c6a" stroke-width="0.3">82.4</text>
<text x="476.50" y="656.40" font-size="20.24" textLength="47.13" lengthAdjust="spacingAndGlyphs" text-anchor="middle" font-weight="bold" fill="#d0455a" stroke="#d0455a" stroke-width="0.3">74.0</text>
<text x="546.20" y="626.00" font-size="20.24" textLength="47.13" lengthAdjust="spacingAndGlyphs" text-anchor="middle" font-weight="bold" fill="#f09664" stroke="#f09664" stroke-width="0.3">84.6</text>
<text x="546.20" y="640.80" font-size="20.24" textLength="47.13" lengthAdjust="spacingAndGlyphs" text-anchor="middle" font-weight="bold" fill="#821c6a" stroke="#821c6a" stroke-width="0.3">53.4</text>
<text x="546.20" y="656.40" font-size="20.24" textLength="47.13" lengthAdjust="spacingAndGlyphs" text-anchor="middle" font-weight="bold" fill="#d0455a" stroke="#d0455a" stroke-width="0.3">25.8</text>
<rect x="371.50" y="607.90" width="209.40" height="153.00" fill="none" stroke="#000" stroke-width="1.3"/>
<line x1="366.10" y1="733.40" x2="371.50" y2="733.40" stroke="#000" stroke-width="1.5"/>
<line x1="366.10" y1="677.60" x2="371.50" y2="677.60" stroke="#000" stroke-width="1.5"/>
<line x1="366.10" y1="621.80" x2="371.50" y2="621.80" stroke="#000" stroke-width="1.5"/>
<line x1="406.40" y1="760.90" x2="406.40" y2="766.30" stroke="#000" stroke-width="1.5"/>
<text transform="translate(403.40,787.00) rotate(-30)" font-size="23.31" textLength="44.24" lengthAdjust="spacingAndGlyphs" text-anchor="end" stroke="#000" stroke-width="0.2">REA</text>
<line x1="476.10" y1="760.90" x2="476.10" y2="766.30" stroke="#000" stroke-width="1.5"/>
<text transform="translate(473.10,787.00) rotate(-30)" font-size="23.31" textLength="68.09" lengthAdjust="spacingAndGlyphs" text-anchor="end" stroke="#000" stroke-width="0.2">CMIP6</text>
<line x1="545.80" y1="760.90" x2="545.80" y2="766.30" stroke="#000" stroke-width="1.5"/>
<text transform="translate(542.80,787.00) rotate(-30)" font-size="23.31" textLength="67.78" lengthAdjust="spacingAndGlyphs" text-anchor="end" stroke="#000" stroke-width="0.2">AMIP6</text>
<text x="371.50" y="598.50" font-size="26.81" textLength="140.11" lengthAdjust="spacingAndGlyphs" stroke="#000" stroke-width="0.2">e) extreme</text>
<text transform="translate(31.00,422.75) rotate(-90)" font-size="26.81" textLength="143.00" lengthAdjust="spacingAndGlyphs" text-anchor="middle" stroke="#000" stroke-width="0.2">45°S−60°S</text>
<text transform="translate(63.60,422.05) rotate(-90)" font-size="23.31" textLength="107.02" lengthAdjust="spacingAndGlyphs" text-anchor="middle" stroke="#000" stroke-width="0.2">ws trends</text>
<text transform="translate(88.20,422.05) rotate(-90)" font-size="23.31" textLength="145.46" lengthAdjust="spacingAndGlyphs" text-anchor="middle" stroke="#000" stroke-width="0.2">(m/s/decade)</text>
<text x="643.50" y="415.30" font-size="26.81" textLength="64.39" lengthAdjust="spacingAndGlyphs" text-anchor="middle" stroke="#000" stroke-width="0.2">1980</text>
<text x="643.50" y="443.40" font-size="26.81" textLength="85.59" lengthAdjust="spacingAndGlyphs" text-anchor="middle" stroke="#000" stroke-width="0.2">−2019</text>
<text transform="translate(31.00,685.10) rotate(-90)" font-size="26.81" textLength="143.00" lengthAdjust="spacingAndGlyphs" text-anchor="middle" stroke="#000" stroke-width="0.2">45°S−60°S</text>
<text transform="translate(63.60,684.40) rotate(-90)" font-size="23.31" textLength="107.02" lengthAdjust="spacingAndGlyphs" text-anchor="middle" stroke="#000" stroke-width="0.2">ws trends</text>
<text transform="translate(88.20,684.40) rotate(-90)" font-size="23.31" textLength="145.46" lengthAdjust="spacingAndGlyphs" text-anchor="middle" stroke="#000" stroke-width="0.2">(m/s/decade)</text>
<text x="643.50" y="678.15" font-size="26.81" textLength="64.39" lengthAdjust="spacingAndGlyphs" text-anchor="middle" stroke="#000" stroke-width="0.2">1980</text>
<text x="643.50" y="706.25" font-size="26.81" textLength="85.59" lengthAdjust="spacingAndGlyphs" text-anchor="middle" stroke="#000" stroke-width="0.2">−2013</text>
<rect x="135.8" y="845.5" width="448.3" height="32.5" rx="3" ry="3" fill="#fff" stroke="#d6d6d6" stroke-width="1.1"/>
<circle cx="162.00" cy="862.10" r="6.50" fill="#821c6a" stroke="none" stroke-width="0"/>
<text x="195.50" y="866.90" font-size="19.81" textLength="49.50" lengthAdjust="spacingAndGlyphs" stroke="#000" stroke-width="0.2">ERA5</text>
<circle cx="302.30" cy="862.10" r="6.50" fill="#d0455a" stroke="none" stroke-width="0"/>
<text x="335.20" y="866.90" font-size="19.81" textLength="64.66" lengthAdjust="spacingAndGlyphs" stroke="#000" stroke-width="0.2">JRA-3Q</text>
<circle cx="457.50" cy="862.10" r="6.50" fill="#f09664" stroke="none" stroke-width="0"/>
<text x="491.30" y="866.90" font-size="19.81" textLength="85.37" lengthAdjust="spacingAndGlyphs" stroke="#000" stroke-width="0.2">MERRA-2</text>
</g>
</svg></body></html>
